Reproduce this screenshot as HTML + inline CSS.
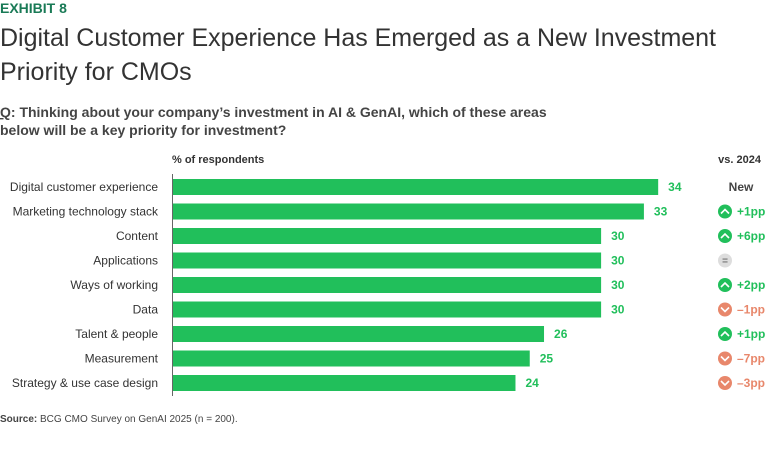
<!DOCTYPE html>
<html><head><meta charset="utf-8"><style>
html,body{margin:0;padding:0;background:#fff;width:768px;height:454px;overflow:hidden;font-family:"Liberation Sans",sans-serif}
svg{display:block}
</style></head><body>
<svg id="c" width="768" height="454">
<text x="0" y="13" font-size="14" font-weight="bold" fill="#197a56">EXHIBIT 8</text>
<text x="0" y="46" font-size="25" fill="#333" textLength="716" lengthAdjust="spacing">Digital Customer Experience Has Emerged as a New Investment</text>
<text x="0" y="80" font-size="25" fill="#333">Priority for CMOs</text>
<text x="0" y="117" font-size="14" font-weight="bold" fill="#444"><tspan text-decoration="underline">Q</tspan>: Thinking about your company’s investment in AI &amp; GenAI, which of these areas</text>
<text x="0" y="135" font-size="14" font-weight="bold" fill="#444">below will be a key priority for investment?</text>
<text x="172" y="163" font-size="11" font-weight="bold" fill="#333">% of respondents</text>
<text x="761" y="163" font-size="11" font-weight="bold" fill="#333" text-anchor="end">vs. 2024</text>
<line x1="172.5" y1="174" x2="172.5" y2="396" stroke="#666" stroke-width="1"/>
<g id="rows"></g>
<text x="0" y="422" font-size="10" fill="#444"><tspan font-weight="bold">Source:</tspan> BCG CMO Survey on GenAI 2025 (n = 200).</text>
</svg>
<script>
const categories=["Digital customer experience","Marketing technology stack","Content","Applications","Ways of working","Data","Talent & people","Measurement","Strategy & use case design"];
const values=[34,33,30,30,30,30,26,25,24];
const changes=["New","+1pp","+6pp","=","+2pp","–1pp","+1pp","–7pp","–3pp"];
const directions=["none","up","up","eq","up","down","up","down","down"];
const x0=172,unit=14.27,y0=187,step=24.5,bh=16;
const g=document.getElementById('rows');
const NS="http://www.w3.org/2000/svg";
function mk(t,a){const e=document.createElementNS(NS,t);for(const k in a)e.setAttribute(k,a[k]);return e;}
categories.forEach((c,i)=>{
  const cy=y0+i*step, w=values[i]*unit;
  const lab=mk('text',{x:158,y:cy+4,'font-size':12,fill:'#333','text-anchor':'end'});
  lab.textContent=c;
  
  
  g.appendChild(lab);
  const r=mk('rect',{x:x0+1,y:cy-bh/2,width:w,height:bh,fill:'#21bf5b'});
  
  
  g.appendChild(r);
  const v=mk('text',{x:x0+w+11,y:cy+4,'font-size':12,'font-weight':'bold',fill:'#21bf5b'});
  v.textContent=values[i];
  
  
  g.appendChild(v);
  const d=directions[i];
  if(d==='none'){
    const t=mk('text',{x:741,y:cy+4,'font-size':12,'font-weight':'bold',fill:'#444','text-anchor':'middle'});
    t.textContent=changes[i];
    
    
    g.appendChild(t);
    return;
  }
  const col=d==='up'?'#21bf5b':d==='down'?'#e8876b':'#ddd';
  const ci=mk('circle',{cx:725,cy:cy,r:7,fill:col});
  
  
  g.appendChild(ci);
  if(d==='up'||d==='down'){
    const p=d==='up'?`M721,${cy+2} L725,${cy-2} L729,${cy+2}`:`M721,${cy-2} L725,${cy+2} L729,${cy-2}`;
    g.appendChild(mk('path',{d:p,stroke:'#fff','stroke-width':1.6,fill:'none'}));
    const t=mk('text',{x:737,y:cy+4,'font-size':12,'font-weight':'bold',fill:col});
    t.textContent=changes[i];
    
    
    g.appendChild(t);
  } else {
    const t=mk('text',{x:725,y:cy+3.5,'font-size':10,'font-weight':'bold',fill:'#777','text-anchor':'middle'});
    t.textContent=changes[i];
    
    
    g.appendChild(t);
  }
});
</script>
</body></html>
